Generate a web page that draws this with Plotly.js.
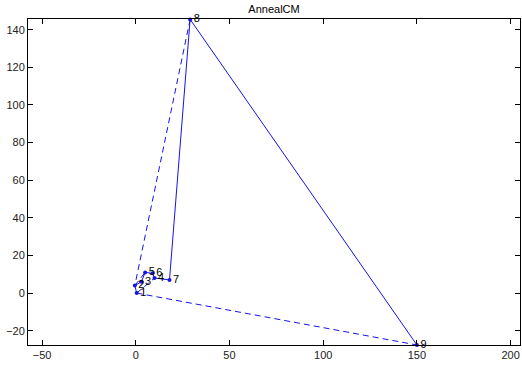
<!DOCTYPE html>
<html><head><meta charset="utf-8">
<script src="https://cdn.plot.ly/plotly-3.0.1.min.js"></script>
<style>html,body{margin:0;padding:0;background:#fff}</style>
</head><body><div id="chart" style="width:522px;height:365px"></div>
<script>
// Node labels and coordinates
const labels = ["1","2","3","4","5","6","7","8","9"];
const xs = [0.5, -0.5, 3, 10, 5, 9, 18, 29, 150];
const ys = [0, 4, 6, 8, 11, 10.5, 7, 145.5, -27.6];
// Edges (by label) drawn solid and dashed
const solidEdges = [["9","8"],["8","7"],["7","4"],["4","6"],["6","5"],["5","3"],["3","2"],["2","1"]];
const dashedEdges = [["1","9"],["8","2"],["1","4"],["2","5"]];

function edgeXY(edges){
  const ex=[], ey=[];
  edges.forEach(([a,b])=>{
    const i=labels.indexOf(a), j=labels.indexOf(b);
    ex.push(xs[i], xs[j], null); ey.push(ys[i], ys[j], null);
  });
  return {ex, ey};
}
const s = edgeXY(solidEdges), d = edgeXY(dashedEdges);
const blue = 'rgb(20,20,230)';
const traces = [
  {x:s.ex, y:s.ey, mode:'lines', line:{color:blue, width:1}, hoverinfo:'skip', cliponaxis:false},
  {x:d.ex, y:d.ey, mode:'lines', line:{color:blue, width:1, dash:'6px,4px'}, hoverinfo:'skip', cliponaxis:false},
  {x:xs, y:ys, mode:'markers+text', text:labels, textposition:'middle right', cliponaxis:false,
   marker:{color:blue, size:4}, textfont:{family:'Liberation Sans, Arial', size:11, color:'#000'}}
];
const axisCommon = {showgrid:false, zeroline:false, showline:true, linecolor:'#000', linewidth:1,
  mirror:'ticks', ticks:'inside', ticklen:5, tickcolor:'#000',
  tickfont:{family:'Liberation Sans, Arial', size:11, color:'#222'}};
const layout = {
  width:522, height:365, showlegend:false,
  paper_bgcolor:'#fff', plot_bgcolor:'#fff',
  margin:{l:28, r:2, t:19, b:20},
  title:{text:'AnnealCM', font:{family:'Liberation Sans, Arial', size:11, color:'#000'}, x:0.525, xanchor:'center', y:0.985, yanchor:'top'},
  xaxis:Object.assign({range:[-57.5,205], tickvals:[-50,0,50,100,150,200]}, axisCommon),
  yaxis:Object.assign({range:[-27.6,145.7], tickvals:[-20,0,20,40,60,80,100,120,140]}, axisCommon)
};
Plotly.newPlot('chart', traces, layout, {displayModeBar:false, staticPlot:true});
</script></body></html>
